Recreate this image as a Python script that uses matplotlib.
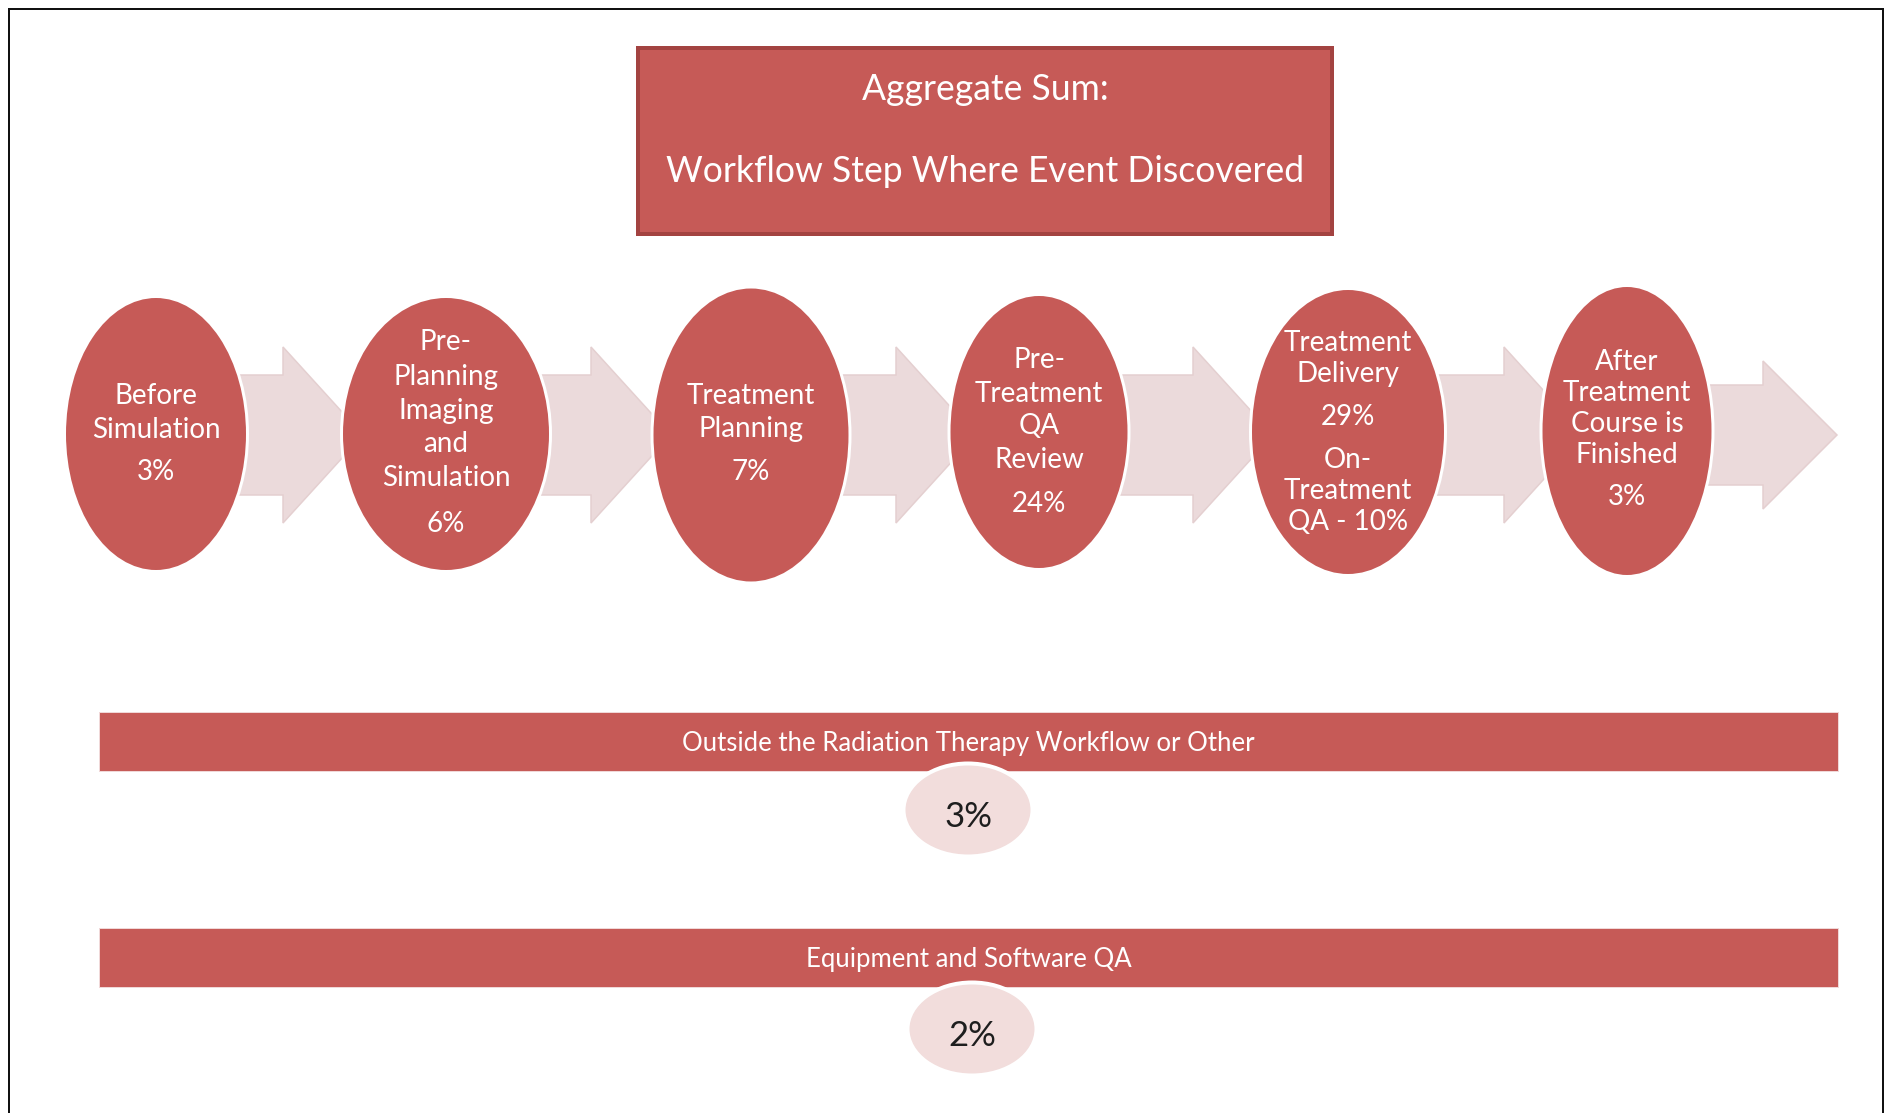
import matplotlib
matplotlib.use("Agg")
import matplotlib.pyplot as plt
from matplotlib.patches import Ellipse, Rectangle, Polygon

# ---- data -------------------------------------------------------------
title_lines = ["Aggregate Sum:", "Workflow Step Where Event Discovered"]

step_labels = [
    ["Before", "Simulation"],
    ["Pre-", "Planning", "Imaging", "and", "Simulation"],
    ["Treatment", "Planning"],
    ["Pre-", "Treatment", "QA", "Review"],
    ["Treatment", "Delivery"],
    ["After", "Treatment", "Course is", "Finished"],
]
step_values = [3, 6, 7, 24, 29, 3]
on_treatment_qa = 10   # shown inside the Treatment Delivery step

other_labels = ["Outside the Radiation Therapy Workflow or Other",
                "Equipment and Software QA"]
other_values = [3, 2]

# ---- layout (pixels) --------------------------------------------------
W, H = 1890, 1113
ell_cx = [156, 446, 751, 1039, 1348, 1627]
ell_cy = [434, 434, 435, 432, 432, 431]
ell_w = [183, 209, 198, 180, 195, 172]
ell_h = [275, 275, 296, 275, 287, 291]
txt_cy = [432, 431, 432, 430, 430, 427]
txt_pitch = [33, 34, 33, 33, 31, 31]
txt_gap = [43, 46, 43, 45, 43, 42]

arrow_base = [283, 591, 896, 1193, 1504, 1763]
arrow_len = [80, 80, 80, 80, 80, 74]
arrow_body = [60, 60, 60, 60, 60, 50]
arrow_head = [88, 88, 88, 88, 88, 74]
arrow_y = 435

bar_x0, bar_x1 = 99, 1838
bar_y = [712, 928]
bar_h = 59
small_cx = [968, 972]
small_cy = [810, 1029]
small_w, small_h = 129, 93

RED = "#C65A57"
DARK_RED = "#A34341"
PINK = "#EBDADB"
LIGHT = "#F2DDDC"
FONT = "Lato"


def px(v):
    return v * 0.72


def text_stack(ax, x, yc, paragraphs, pitch, gap, size, color="white"):
    total = sum((len(p) - 1) * pitch for p in paragraphs) + gap * (len(paragraphs) - 1)
    y = yc - total / 2
    for i, para in enumerate(paragraphs):
        if i > 0:
            y += gap
        for j, line in enumerate(para):
            if j > 0:
                y += pitch
            ax.text(x, y, line, ha="center", va="center_baseline", color=color,
                    fontsize=size, family=FONT, zorder=6)


def main() -> None:
    fig = plt.figure(figsize=(W / 100, H / 100), dpi=100)
    ax = fig.add_axes([0, 0, 1, 1])
    ax.set_xlim(0, W)
    ax.set_ylim(H, 0)
    ax.axis("off")

    # page frame (bottom edge is cut off)
    ax.plot([9, 9, 1883, 1883], [H + 20, 9, 9, H + 20], color="#111111",
            lw=px(2), solid_joinstyle="miter", zorder=1)

    # title box
    ax.add_patch(Rectangle((638, 48), 694, 186, facecolor=RED, edgecolor=DARK_RED,
                           lw=px(4), zorder=2))
    ax.text(985, 89, title_lines[0], ha="center", va="center", color="white",
            fontsize=25.6, family=FONT, zorder=3)
    ax.text(985, 171, title_lines[1], ha="center", va="center", color="white",
            fontsize=25.6, family=FONT, zorder=3)

    # arrows between steps
    for i in range(len(arrow_base)):
        x0 = ell_cx[i]
        xb = arrow_base[i]
        xt = xb + arrow_len[i]
        b, h = arrow_body[i], arrow_head[i]
        pts = [(x0, arrow_y - b), (xb, arrow_y - b), (xb, arrow_y - h), (xt, arrow_y),
               (xb, arrow_y + h), (xb, arrow_y + b), (x0, arrow_y + b)]
        ax.add_patch(Polygon(pts, closed=True, facecolor=PINK, edgecolor="#E4CFD0",
                             lw=px(1.5), zorder=3))

    # step ellipses
    for i, lines in enumerate(step_labels):
        ax.add_patch(Ellipse((ell_cx[i], ell_cy[i]), ell_w[i], ell_h[i], facecolor=RED,
                             edgecolor="white", lw=px(3), zorder=4))
        paras = [lines, [f"{step_values[i]}%"]]
        if i == 4:
            paras.append(["On-", "Treatment", f"QA - {on_treatment_qa}%"])
        text_stack(ax, ell_cx[i], txt_cy[i], paras, txt_pitch[i], txt_gap[i], 20)

    # categories outside the workflow
    for k, label in enumerate(other_labels):
        y0 = bar_y[k]
        ax.add_patch(Rectangle((bar_x0, y0), bar_x1 - bar_x0, bar_h, facecolor=RED,
                               edgecolor="#F0D8D8", lw=px(1), zorder=2))
        ax.text((bar_x0 + bar_x1) / 2, y0 + bar_h / 2 + 2, label, ha="center",
                va="center", color="white", fontsize=18.5, family=FONT, zorder=3)
        ax.add_patch(Ellipse((small_cx[k], small_cy[k]), small_w, small_h,
                             facecolor=LIGHT, edgecolor="white", lw=px(4), zorder=4))
        ax.text(small_cx[k], small_cy[k] + 7, f"{other_values[k]}%", ha="center",
                va="center", color="#1E1E1E", fontsize=25, family=FONT, zorder=5)

    fig.savefig("out.png", dpi=100, facecolor="white")


if __name__ == "__main__":
    main()
